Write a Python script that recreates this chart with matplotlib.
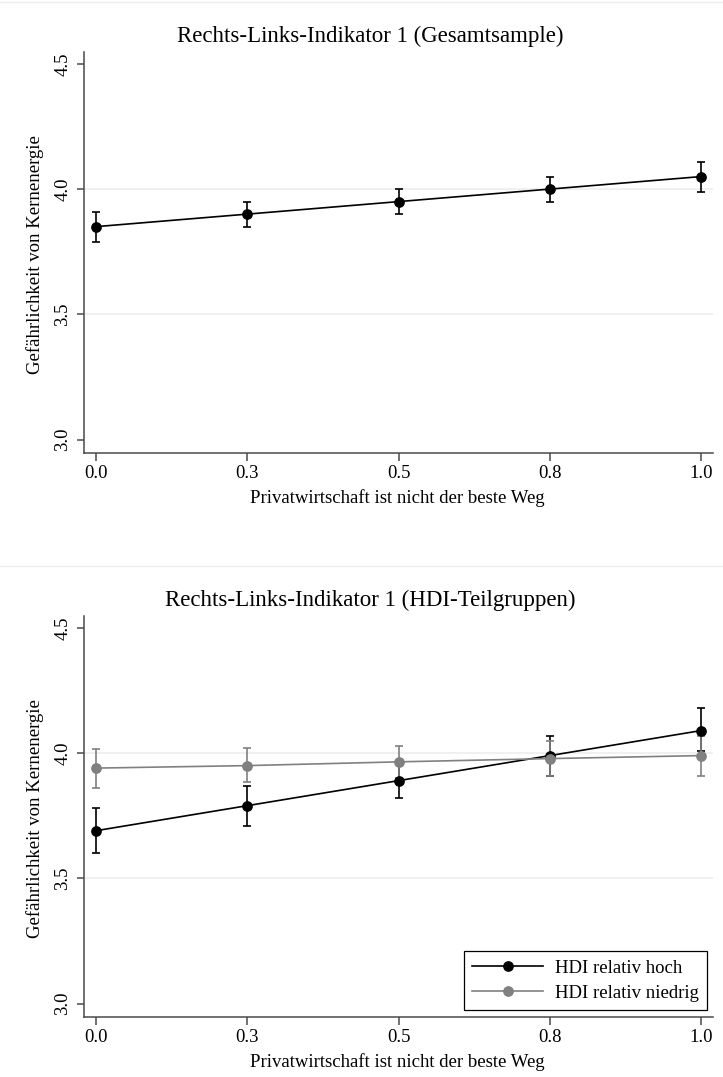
import numpy as np
import matplotlib.pyplot as plt
from matplotlib.lines import Line2D

plt.rcParams['font.family'] = 'serif'
plt.rcParams['font.serif'] = ['Liberation Serif', 'DejaVu Serif']

# predicted values with 95% CIs at five levels of the indicator
x = [0.0, 0.25, 0.5, 0.75, 1.0]
xticklabels = ['0.0', '0.3', '0.5', '0.8', '1.0']
yticks = [3.0, 3.5, 4.0, 4.5]

total_mean = [3.85, 3.90, 3.95, 4.00, 4.05]
total_lo = [3.79, 3.85, 3.90, 3.95, 3.99]
total_hi = [3.91, 3.95, 4.00, 4.05, 4.11]

hoch_mean = [3.69, 3.79, 3.89, 3.99, 4.09]
hoch_lo = [3.60, 3.71, 3.82, 3.91, 4.01]
hoch_hi = [3.78, 3.87, 3.97, 4.07, 4.18]

niedrig_mean = [3.94, 3.95, 3.965, 3.978, 3.99]
niedrig_lo = [3.86, 3.885, 3.90, 3.907, 3.91]
niedrig_hi = [4.017, 4.02, 4.03, 4.047, 4.07]

titles = ['Rechts-Links-Indikator 1 (Gesamtsample)',
          'Rechts-Links-Indikator 1 (HDI-Teilgruppen)']
xlabel = 'Privatwirtschaft ist nicht der beste Weg'
ylabel = 'Gefährlichkeit von Kernenergie'

W, H = 723, 1077
fig = plt.figure(figsize=(W / 100, H / 100), dpi=100)

fs = 13.5
spine_col = '#4a4a4a'
grey = '#808080'


def ci_plot(ax, mean, lo, hi, color, label=None):
    mean = np.array(mean)
    err = [mean - np.array(lo), np.array(hi) - mean]
    ax.errorbar(x, mean, yerr=err, color=color, marker='o', markersize=6.7,
                linewidth=1.2, elinewidth=1.2, capsize=3.2, capthick=1.2,
                label=label, zorder=3)


def setup(ax, top):
    ax.set_xlim(-0.0193, 1.0191)
    ax.set_ylim(2.948, 4.547)
    for s in ['top', 'right']:
        ax.spines[s].set_visible(False)
    for s in ['left', 'bottom']:
        ax.spines[s].set_color(spine_col)
        ax.spines[s].set_linewidth(1.1)
    for g in [3.5, 4.0]:
        ax.axhline(g, color='#ececec', linewidth=1.1, zorder=0)
    ax.set_xticks(x)
    ax.set_xticklabels(xticklabels, fontsize=fs)
    ax.set_yticks(yticks)
    ax.set_yticklabels(['%.1f' % v for v in yticks], fontsize=fs,
                       rotation=90, va='center')
    ax.tick_params(axis='x', length=6, width=1.1, color=spine_col, pad=3)
    ax.tick_params(axis='y', length=5, width=1.1, color=spine_col, pad=4)
    # texts placed in figure pixels
    fig.text(370 / W, 1 - (36 + top) / H, ax.get_label(), fontsize=16.5,
             ha='center', va='center')
    fig.text(397.5 / W, 1 - (498 + top) / H, xlabel, fontsize=fs,
             ha='center', va='center')
    fig.text(35 / W, 1 - (255 + top) / H, ylabel, fontsize=fs,
             ha='center', va='center', rotation=90)


ax1 = fig.add_axes([84 / W, 1 - 452.7 / H, 629 / W, 400.7 / H],
                   label=titles[0])
setup(ax1, 0)
ci_plot(ax1, total_mean, total_lo, total_hi, 'black')

ax2 = fig.add_axes([84 / W, 1 - (452.7 + 564) / H, 629 / W, 400.7 / H],
                   label=titles[1])
setup(ax2, 564)
ci_plot(ax2, hoch_mean, hoch_lo, hoch_hi, 'black', 'HDI relativ hoch')
ci_plot(ax2, niedrig_mean, niedrig_lo, niedrig_hi, grey, 'HDI relativ niedrig')

handles = [Line2D([], [], color='black', marker='o', markersize=6.7, linewidth=1.2),
           Line2D([], [], color=grey, marker='o', markersize=6.7, linewidth=1.2)]
leg = ax2.legend(handles, ['HDI relativ hoch', 'HDI relativ niedrig'],
                 loc='lower right', bbox_to_anchor=(0.9905, 0.0167),
                 borderaxespad=0, fontsize=fs, handlelength=3.8,
                 handletextpad=0.6, labelspacing=0.42, borderpad=0.45,
                 fancybox=False, framealpha=1, edgecolor='black')
leg.get_frame().set_linewidth(0.9)

# faint outlines of the two graph regions
for yy in [2, 566]:
    fig.add_artist(Line2D([0, 1], [1 - yy / H] * 2, color='#eeeeee',
                          linewidth=1, transform=fig.transFigure))

fig.savefig('out.png', dpi=100)
